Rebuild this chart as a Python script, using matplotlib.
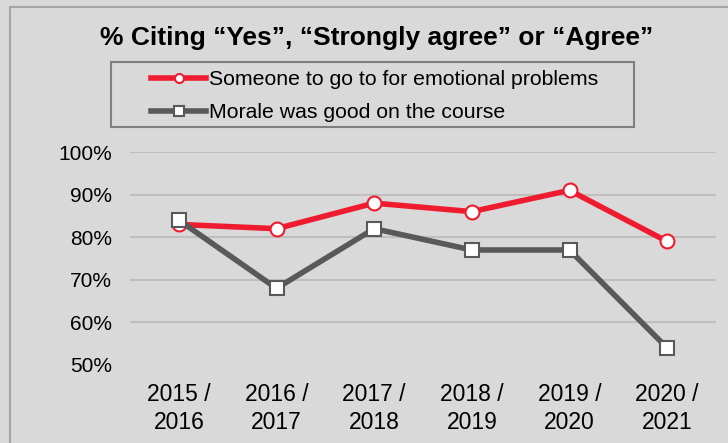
import matplotlib.pyplot as plt
from matplotlib.patches import Rectangle
from matplotlib.ticker import FuncFormatter

years = ['2015 /\n2016', '2016 /\n2017', '2017 /\n2018', '2018 /\n2019', '2019 /\n2020', '2020 /\n2021']
emotional = [83, 82, 88, 86, 91, 79]
morale = [84, 68, 82, 77, 77, 54]
yticks = [50, 60, 70, 80, 90, 100]

plt.rcParams['font.family'] = ['Liberation Sans', 'DejaVu Sans']

bg = '#d9d9d9'
W, H = 728, 443
fig = plt.figure(figsize=(7.28, 4.43), dpi=100, facecolor=bg)
# outer chart frame
fig.patches.append(Rectangle((10 / W, -0.05), 1.0, 1 - 7 / H + 0.05, transform=fig.transFigure,
                             fill=False, edgecolor='#a6a6a6', linewidth=1.5))
# legend frame
fig.patches.append(Rectangle((111 / W, 1 - 127 / H), (634 - 111) / W, (127 - 62) / H,
                             transform=fig.transFigure, fill=False, edgecolor='#7f7f7f', linewidth=1.5))

ax = fig.add_axes([130 / W, 1 - 365 / H, (716 - 130) / W, (365 - 152) / H])
ax.set_facecolor(bg)

x = list(range(len(years)))
ax.plot(x, emotional, color='#ee1c2e', linewidth=4, marker='o', markersize=10,
        markerfacecolor='white', markeredgecolor='#ee1c2e', markeredgewidth=1.5,
        label='Someone to go to for emotional problems', zorder=3)
ax.plot(x, morale, color='#595959', linewidth=4, marker='s', markersize=10,
        markerfacecolor='white', markeredgecolor='#595959', markeredgewidth=1.5,
        label='Morale was good on the course', zorder=4)

ax.set_xlim(-0.5, len(years) - 0.5)
ax.set_ylim(50, 100)
ax.set_yticks(yticks)
ax.yaxis.set_major_formatter(FuncFormatter(lambda v, p: '%d%%' % v))
ax.set_xticks(x)
ax.set_xticklabels(years, linespacing=1.25)
ax.tick_params(axis='both', length=0, colors='black')
ax.tick_params(axis='y', pad=13, labelsize=15)
ax.tick_params(axis='x', pad=13, labelsize=16.5)
ax.grid(axis='y', color='#bfbfbf', linewidth=1.5)
ax.get_ygridlines()[0].set_visible(False)
for s in ax.spines.values():
    s.set_visible(False)

fig.text(377 / W, 1 - 38 / H, '% Citing \u201cYes\u201d, \u201cStrongly agree\u201d or \u201cAgree\u201d',
         ha='center', va='center', fontsize=19, fontweight='bold')

leg = fig.legend(loc='upper left', bbox_to_anchor=(151 / W, 1 - 70 / H), fontsize=15.3,
                 frameon=False, handlelength=2.6, handletextpad=0.15, borderpad=0,
                 labelspacing=0.68, markerscale=0.65, borderaxespad=0)

plt.savefig('out.png', dpi=100, facecolor=bg)
